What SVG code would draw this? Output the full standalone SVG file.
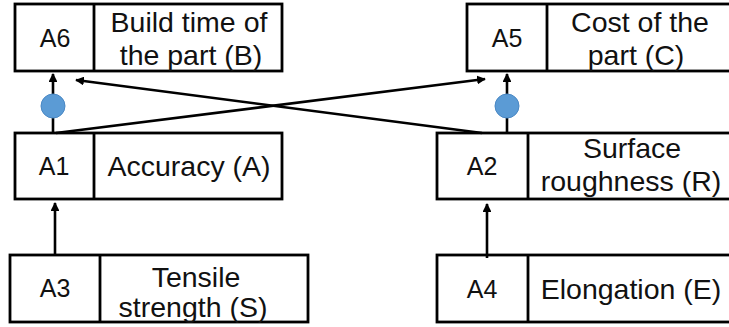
<svg xmlns="http://www.w3.org/2000/svg" width="729" height="327" viewBox="0 0 729 327">
<style>
.box{fill:#fff;stroke:#000;stroke-width:2.8}
.div{stroke:#000;stroke-width:2.8}
.lbl{font-family:"Liberation Sans",Arial,sans-serif;font-size:25px;fill:#111;text-anchor:middle}
.txt{font-family:"Liberation Sans",Arial,sans-serif;font-size:28.5px;fill:#111;text-anchor:middle}
.con{stroke:#000;stroke-width:2.6;fill:none}
.dot{fill:#5B9BD5;stroke:#4A88C4;stroke-width:1}
</style>
<defs>
<marker id="ah" viewBox="0 0 10 10" refX="9" refY="5" markerWidth="3.4" markerHeight="3.4" orient="auto" markerUnits="strokeWidth">
<path d="M0,0 L10,5 L0,10 z" fill="#000"/>
</marker>
</defs>
<rect width="729" height="327" fill="#fff"/>
<g id="A6">
<rect class="box" x="15" y="4" width="267" height="67"/>
<line class="div" x1="94" y1="4" x2="94" y2="71"/>
<text class="lbl" x="55" y="47">A6</text>
<text class="txt" x="189" y="32">Build time of</text>
<text class="txt" x="191" y="65">the part (B)</text>
</g>
<g id="A5">
<rect class="box" x="467" y="4" width="266" height="67"/>
<line class="div" x1="547" y1="4" x2="547" y2="71"/>
<text class="lbl" x="507" y="47">A5</text>
<text class="txt" x="640" y="32">Cost of the</text>
<text class="txt" x="636" y="65">part (C)</text>
</g>
<g id="A1">
<rect class="box" x="15" y="133" width="267" height="66"/>
<line class="div" x1="94" y1="133" x2="94" y2="199"/>
<text class="lbl" x="54" y="175">A1</text>
<text class="txt" x="189" y="176">Accuracy (A)</text>
</g>
<g id="A2">
<rect class="box" x="437" y="133" width="296" height="66"/>
<line class="div" x1="528" y1="133" x2="528" y2="199"/>
<text class="lbl" x="482" y="175">A2</text>
<text class="txt" x="632" y="158">Surface</text>
<text class="txt" x="631" y="191">roughness (R)</text>
</g>
<g id="A3">
<rect class="box" x="10" y="255" width="298" height="67"/>
<line class="div" x1="100" y1="255" x2="100" y2="322"/>
<text class="lbl" x="55" y="297">A3</text>
<text class="txt" x="196" y="287">Tensile</text>
<text class="txt" x="193" y="317">strength (S)</text>
</g>
<g id="A4">
<rect class="box" x="437" y="255" width="296" height="67"/>
<line class="div" x1="528" y1="255" x2="528" y2="322"/>
<text class="lbl" x="482" y="298">A4</text>
<text class="txt" x="631" y="299">Elongation (E)</text>
</g>
<g id="connectors">
<line class="con" x1="55" y1="255" x2="55" y2="203" marker-end="url(#ah)"/>
<line class="con" x1="487" y1="258" x2="487" y2="204" marker-end="url(#ah)"/>
<line class="con" x1="53" y1="133" x2="53" y2="74" marker-end="url(#ah)"/>
<line class="con" x1="507" y1="133" x2="507" y2="74" marker-end="url(#ah)"/>
<line class="con" x1="56" y1="133" x2="485" y2="79" marker-end="url(#ah)"/>
<line class="con" x1="482" y1="133" x2="76" y2="80" marker-end="url(#ah)"/>
<circle class="dot" cx="53" cy="106" r="12"/>
<circle class="dot" cx="507" cy="106" r="12"/>
</g>
</svg>
